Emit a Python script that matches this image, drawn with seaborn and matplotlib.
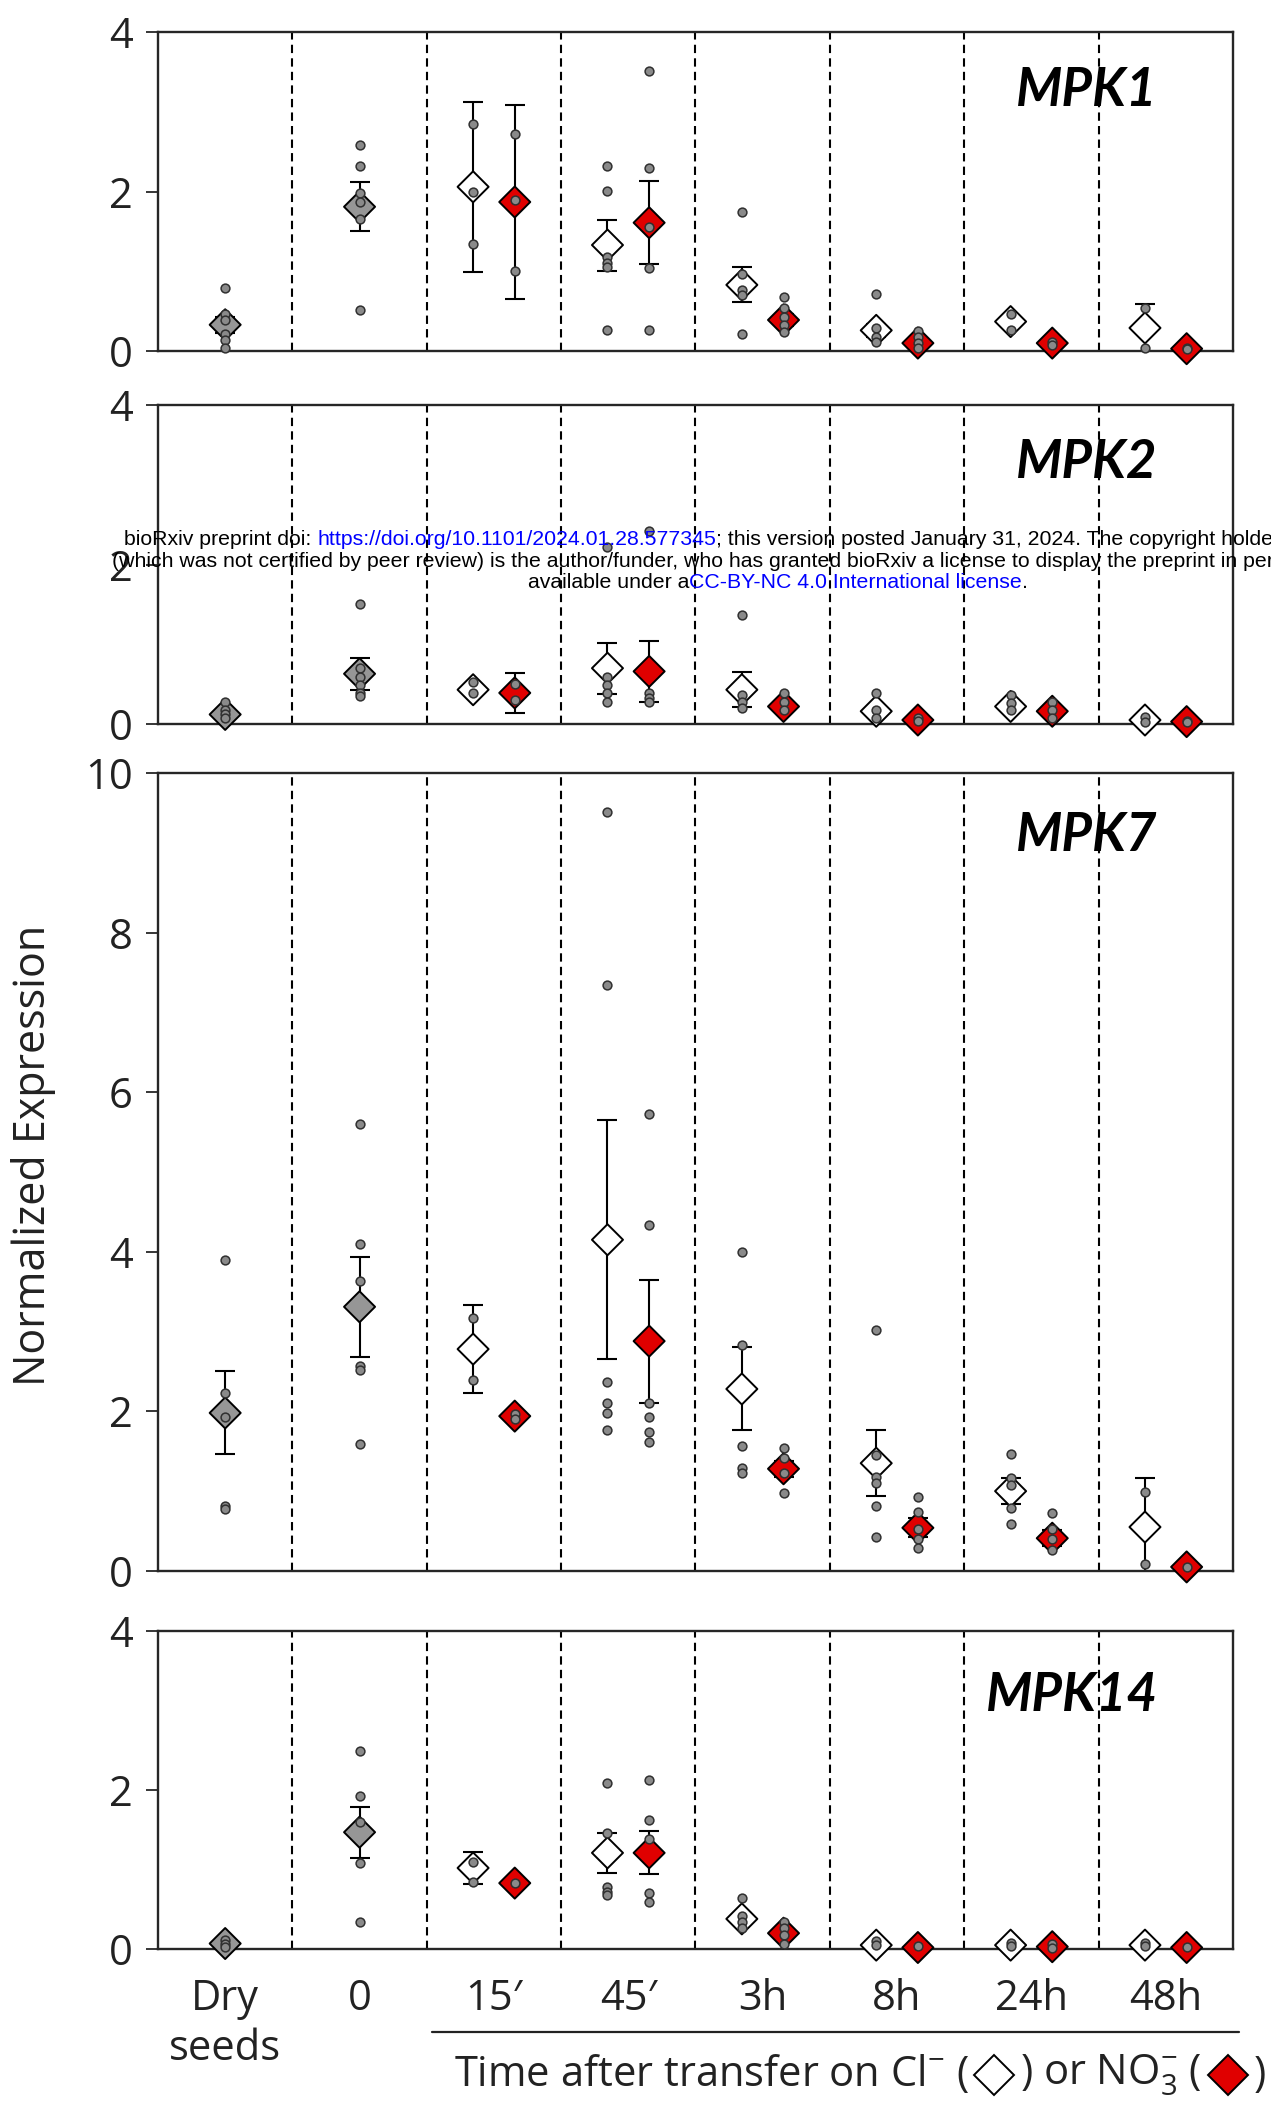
import numpy as np
import pandas as pd
import seaborn as sns
import matplotlib
matplotlib.use("Agg")
import matplotlib.pyplot as plt
from matplotlib.lines import Line2D
from matplotlib.text import Annotation
from matplotlib.offsetbox import TextArea, DrawingArea, HPacker, AnnotationBbox

times = ["Dry\nseeds", "0", "15\u2032", "45\u2032", "3h", "8h", "24h", "48h"]

# gray = dry seeds / t0 ; cl = Cl- transfer ; no3 = NO3- transfer (15' .. 48h)
mpk1_gray_mean = [0.33, 1.81]
mpk1_gray_se = [0.10, 0.31]
mpk1_gray_pts = [[0.79, 0.47, 0.39, 0.22, 0.14, 0.04], [2.58, 2.32, 1.98, 1.87, 1.66, 0.51]]
mpk1_cl_mean = [2.06, 1.33, 0.83, 0.26, 0.37, 0.29]
mpk1_cl_se = [1.07, 0.32, 0.22, 0.08, 0.07, 0.30]
mpk1_cl_pts = [[2.85, 2.0, 1.34], [2.32, 2.01, 1.18, 1.10, 1.06, 0.27], [1.75, 0.97, 0.76, 0.70, 0.21],
               [0.71, 0.29, 0.18, 0.12], [0.47, 0.27], [0.54, 0.04]]
mpk1_no3_mean = [1.87, 1.61, 0.39, 0.10, 0.10, 0.03]
mpk1_no3_se = [1.22, 0.52, 0.08, 0.04, 0.02, 0.01]
mpk1_no3_pts = [[2.72, 1.89, 1.0], [3.51, 2.29, 1.56, 1.04, 0.27], [0.68, 0.54, 0.43, 0.33, 0.24],
                [0.25, 0.18, 0.10, 0.04], [0.12, 0.08], [0.04, 0.02]]

mpk2_gray_mean = [0.12, 0.63]
mpk2_gray_se = [0.04, 0.20]
mpk2_gray_pts = [[0.27, 0.17, 0.12, 0.07], [1.50, 0.70, 0.59, 0.49, 0.39, 0.35]]
mpk2_cl_mean = [0.43, 0.70, 0.43, 0.16, 0.22, 0.05]
mpk2_cl_se = [0.05, 0.32, 0.22, 0.05, 0.04, 0.02]
mpk2_cl_pts = [[0.53, 0.39], [2.22, 0.59, 0.49, 0.39, 0.28], [1.37, 0.36, 0.28, 0.20],
               [0.39, 0.17, 0.08], [0.36, 0.26, 0.17], [0.09, 0.03]]
mpk2_no3_mean = [0.39, 0.66, 0.22, 0.05, 0.16, 0.03]
mpk2_no3_se = [0.25, 0.38, 0.04, 0.01, 0.04, 0.01]
mpk2_no3_pts = [[0.50, 0.30], [2.42, 0.39, 0.33, 0.28], [0.39, 0.28, 0.17],
                [0.07, 0.04], [0.28, 0.17, 0.08], [0.04, 0.02]]

mpk7_gray_mean = [1.98, 3.31]
mpk7_gray_se = [0.52, 0.63]
mpk7_gray_pts = [[3.90, 2.23, 1.93, 0.81, 0.78], [5.60, 4.10, 3.63, 2.57, 2.52, 1.59]]
mpk7_cl_mean = [2.78, 4.15, 2.28, 1.35, 1.00, 0.55]
mpk7_cl_se = [0.55, 1.50, 0.52, 0.41, 0.16, 0.62]
mpk7_cl_pts = [[3.17, 2.39], [9.51, 7.34, 2.37, 2.11, 1.98, 1.77], [4.00, 2.83, 1.57, 1.29, 1.23],
               [3.02, 1.45, 1.18, 1.10, 0.81, 0.42], [1.47, 1.17, 1.08, 0.79, 0.59], [0.99, 0.09]]
mpk7_no3_mean = [1.94, 2.88, 1.28, 0.54, 0.41, 0.05]
mpk7_no3_se = [0.03, 0.77, 0.10, 0.12, 0.10, 0.02]
mpk7_no3_pts = [[1.97, 1.91], [5.72, 4.34, 2.10, 1.93, 1.74, 1.62], [1.54, 1.42, 1.23, 0.98],
                [0.93, 0.74, 0.52, 0.40, 0.29], [0.73, 0.52, 0.40, 0.26], [0.05]]

mpk14_gray_mean = [0.07, 1.47]
mpk14_gray_se = [0.03, 0.32]
mpk14_gray_pts = [[0.12, 0.07, 0.03], [2.49, 1.92, 1.60, 1.08, 0.34]]
mpk14_cl_mean = [1.02, 1.21, 0.38, 0.05, 0.05, 0.05]
mpk14_cl_se = [0.20, 0.25, 0.07, 0.02, 0.02, 0.02]
mpk14_cl_pts = [[1.10, 0.85], [2.09, 1.46, 0.78, 0.72, 0.68], [0.64, 0.42, 0.34, 0.26],
                [0.10, 0.05], [0.08, 0.04], [0.08, 0.04]]
mpk14_no3_mean = [0.83, 1.21, 0.20, 0.02, 0.03, 0.02]
mpk14_no3_se = [0.03, 0.27, 0.04, 0.01, 0.01, 0.01]
mpk14_no3_pts = [[0.83], [2.13, 1.62, 1.38, 0.70, 0.59], [0.34, 0.26, 0.18, 0.07],
                 [0.04], [0.06, 0.02], [0.03]]

gene_sets = {
    "MPK1": {"gray": (mpk1_gray_mean, mpk1_gray_se, mpk1_gray_pts),
             "cl": (mpk1_cl_mean, mpk1_cl_se, mpk1_cl_pts),
             "no3": (mpk1_no3_mean, mpk1_no3_se, mpk1_no3_pts)},
    "MPK2": {"gray": (mpk2_gray_mean, mpk2_gray_se, mpk2_gray_pts),
             "cl": (mpk2_cl_mean, mpk2_cl_se, mpk2_cl_pts),
             "no3": (mpk2_no3_mean, mpk2_no3_se, mpk2_no3_pts)},
    "MPK7": {"gray": (mpk7_gray_mean, mpk7_gray_se, mpk7_gray_pts),
             "cl": (mpk7_cl_mean, mpk7_cl_se, mpk7_cl_pts),
             "no3": (mpk7_no3_mean, mpk7_no3_se, mpk7_no3_pts)},
    "MPK14": {"gray": (mpk14_gray_mean, mpk14_gray_se, mpk14_gray_pts),
              "cl": (mpk14_cl_mean, mpk14_cl_se, mpk14_cl_pts),
              "no3": (mpk14_no3_mean, mpk14_no3_se, mpk14_no3_pts)},
}

cond_start = {"gray": 0, "cl": 2, "no3": 2}
cond_offset = {"gray": 0.0, "cl": -0.155, "no3": 0.155}
palette = {"gray": "#969696", "cl": "white", "no3": "#e00000"}


def tidy(gene):
    means, pts = [], []
    for cond, (m, se, p) in gene_sets[gene].items():
        for k, (mv, sv, pv) in enumerate(zip(m, se, p)):
            x = cond_start[cond] + k + cond_offset[cond]
            means.append(dict(cond=cond, x=x, mean=mv, se=sv))
            pts += [dict(cond=cond, x=x, value=v) for v in pv]
    return pd.DataFrame(means), pd.DataFrame(pts)


sns.set_theme(style="ticks")
plt.rcParams["font.family"] = ["Open Sans", "DejaVu Sans"]
plt.rcParams["mathtext.fontset"] = "custom"
plt.rcParams["mathtext.rm"] = "Open Sans"
plt.rcParams["mathtext.it"] = "Open Sans:italic"

fig = plt.figure(figsize=(12.71, 21.01), dpi=100)

# (gene, ymax, axes rect, label y in axes fraction)
panels = [
    ("MPK1", 4, [0.1243, 0.8329, 0.8458, 0.1518], 0.818),
    ("MPK2", 4, [0.1243, 0.6554, 0.8458, 0.1518], 0.820),
    ("MPK7", 10, [0.1243, 0.2523, 0.8458, 0.3798], 0.921),
    ("MPK14", 4, [0.1243, 0.0723, 0.8458, 0.1514], 0.796),
]

for n, (gene, ymax, rect, lab_y) in enumerate(panels):
    ax = fig.add_axes(rect)
    mdf, pdf = tidy(gene)
    for b in np.arange(0.5, 7, 1.0):
        ax.axvline(b, color="black", lw=1.5, ls=(0, (4, 2.5)), zorder=1)
    ax.errorbar(mdf["x"], mdf["mean"], yerr=mdf["se"], fmt="none", ecolor="black",
                elinewidth=1.5, capsize=7, capthick=1.5, zorder=2)
    sns.scatterplot(data=mdf, x="x", y="mean", hue="cond", palette=palette, marker="D",
                    s=250, edgecolor="black", linewidth=1.4, legend=False, zorder=3,
                    clip_on=False, ax=ax)
    sns.scatterplot(data=pdf, x="x", y="value", color="#8a8a8a", edgecolor="#303030",
                    linewidth=1.1, s=40, legend=False, zorder=4, clip_on=False, ax=ax)
    ax.set_xlim(-0.5, 7.5)
    ax.set_ylim(0, ymax)
    ax.set_yticks(range(0, ymax + 1, 2))
    ax.set_xticks(range(len(times)))
    ax.set_xlabel("")
    ax.set_ylabel("")
    for sp in ax.spines.values():
        sp.set_visible(True)
        sp.set_linewidth(1.7)
        sp.set_color("#262626")
    ax.tick_params(axis="y", length=9, width=1.3, pad=9, labelsize=30,
                   color="#262626", labelcolor="#222222")
    if n == len(panels) - 1:
        ax.set_xticklabels(times, linespacing=1.25)
        ax.tick_params(axis="x", length=0, pad=21, labelsize=30, labelcolor="#222222")
    else:
        ax.set_xticklabels([])
        ax.tick_params(axis="x", length=0)
    ax.text(0.93, lab_y, gene, transform=ax.transAxes, ha="right", va="center",
            fontsize=38, fontweight="bold", fontstyle="italic", color="black",
            family=["Lato", "DejaVu Sans"], zorder=0)

fig.text(0.026, 0.450, "Normalized Expression", rotation=90, ha="center", va="center",
         fontsize=31, color="#222222")

# bracket line and axis caption under the time points
fig.add_artist(Line2D([0.340, 0.975], [0.0328, 0.0328], transform=fig.transFigure,
                      color="#222222", lw=1.6))


def diamond_box(face):
    da = DrawingArea(35, 30, 0, 0)
    da.add_artist(Line2D([17.5], [15], marker="D", markersize=20, markerfacecolor=face,
                         markeredgecolor="black", markeredgewidth=1.4, linestyle="none"))
    return da


cap_kw = dict(fontsize=30, color="#222222")
caption = HPacker(children=[
    TextArea("Time after transfer on Cl$^{-}$ (", textprops=cap_kw),
    diamond_box("white"),
    TextArea(") or NO$_{3}^{-}$ (", textprops=cap_kw),
    diamond_box("#e00000"),
    TextArea(")", textprops=cap_kw),
], align="center", pad=0, sep=1)
fig.add_artist(AnnotationBbox(caption, (0.357, 0.0124), xycoords="figure fraction",
                              box_alignment=(0, 0.5), frameon=False))

# bioRxiv preprint stamp
wm_kw = dict(fontsize=15.3, family="Liberation Sans")
blue = "#0000ff"
stamp_lines = [
    (124 / 1271, 1 - 545 / 2101,
     [("bioRxiv preprint doi: ", "black"),
      ("https://doi.org/10.1101/2024.01.28.577345", blue),
      ("; this version posted January 31, 2024. The copyright holder for this preprint", "black")]),
    (112 / 1271, 1 - 567 / 2101,
     [("(which was not certified by peer review) is the author/funder, who has granted bioRxiv "
       "a license to display the preprint in perpetuity. It is made", "black")]),
    (528 / 1271, 1 - 588 / 2101,
     [("available under a", "black"), ("CC-BY-NC 4.0 International license", blue),
      (".", "black")]),
]
for x0, y0, parts in stamp_lines:
    t = fig.text(x0, y0, parts[0][0], color=parts[0][1], va="baseline", zorder=10, **wm_kw)
    for s, c in parts[1:]:
        t = fig.add_artist(Annotation(s, xy=(1, 0), xycoords=t, va="bottom", color=c,
                                      zorder=10, **wm_kw))

fig.savefig("out.png", dpi=100)
